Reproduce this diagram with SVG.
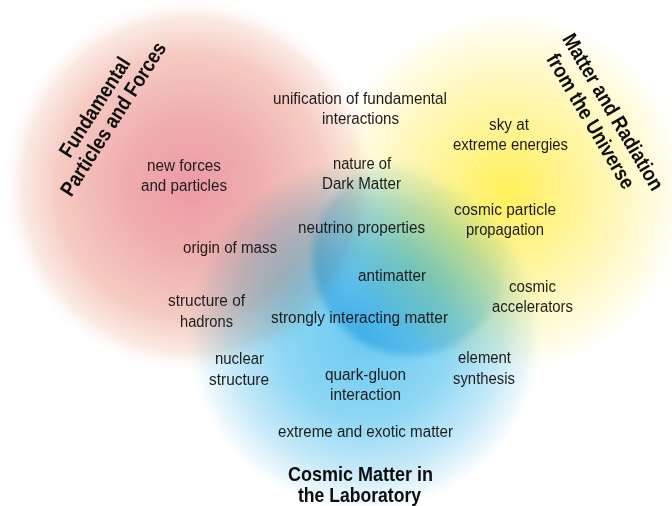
<svg xmlns="http://www.w3.org/2000/svg" width="672" height="506" viewBox="0 0 672 506">
<defs>
<radialGradient id="gRed" gradientUnits="userSpaceOnUse" cx="190" cy="185" r="190">
<stop offset="0" stop-color="#ec9aa6"/>
<stop offset="0.35" stop-color="#efaeae"/>
<stop offset="0.7" stop-color="#f5cbc2"/>
<stop offset="0.88" stop-color="#fae3dc" stop-opacity="0.8"/>
<stop offset="1" stop-color="#ffffff" stop-opacity="0"/>
</radialGradient>
<radialGradient id="gYel" gradientUnits="userSpaceOnUse" cx="508" cy="192" r="185">
<stop offset="0" stop-color="#fff05a"/>
<stop offset="0.3" stop-color="#fff38c"/>
<stop offset="0.65" stop-color="#fff8c4"/>
<stop offset="0.88" stop-color="#fffce6" stop-opacity="0.8"/>
<stop offset="1" stop-color="#ffffff" stop-opacity="0"/>
</radialGradient>
<radialGradient id="gBlue" gradientUnits="userSpaceOnUse" cx="365" cy="335" r="182">
<stop offset="0" stop-color="#6ccaf0"/>
<stop offset="0.45" stop-color="#8cd6f4"/>
<stop offset="0.75" stop-color="#c6e9f8"/>
<stop offset="0.9" stop-color="#e6f5fc" stop-opacity="0.8"/>
<stop offset="1" stop-color="#ffffff" stop-opacity="0"/>
</radialGradient>
<linearGradient id="gCore" gradientUnits="userSpaceOnUse" x1="480" y1="180" x2="340" y2="335">
<stop offset="0" stop-color="#ffffff" stop-opacity="0"/>
<stop offset="0.45" stop-color="#b4e4f7" stop-opacity="0.45"/>
<stop offset="1" stop-color="#6fd0f4" stop-opacity="0.8"/>
</linearGradient>
<filter id="soft" x="-20%" y="-20%" width="140%" height="140%"><feGaussianBlur stdDeviation="3.5"/></filter>
</defs>
<style>
.t{font-family:"Liberation Sans Narrow","Liberation Sans",Arial,sans-serif;font-size:16px;fill:#1c1c1c;text-anchor:middle}
.h{font-family:"Liberation Sans Narrow","Liberation Sans",Arial,sans-serif;font-weight:bold;font-size:21px;fill:#0d0d0d;text-anchor:middle}
.blob{mix-blend-mode:multiply}
</style>
<rect width="672" height="506" fill="#ffffff"/>
<g id="circles">
<circle id="red" class="blob" cx="190" cy="185" r="190" fill="url(#gRed)"/>
<circle id="yellow" class="blob" cx="508" cy="192" r="185" fill="url(#gYel)"/>
<circle id="blue" class="blob" cx="365" cy="335" r="182" fill="url(#gBlue)"/>
<circle id="blueCore" class="blob" cx="410" cy="258" r="97" fill="url(#gCore)" filter="url(#soft)"/>
</g>
<g id="titles">
<g id="title-fundamental" transform="translate(104,113) rotate(-57.5)">
<text class="h" x="0" y="-4" textLength="114" lengthAdjust="spacingAndGlyphs">Fundamental</text>
<text class="h" x="0" y="18" textLength="178" lengthAdjust="spacingAndGlyphs">Particles and Forces</text>
</g>
<g id="title-universe" transform="translate(601,117) rotate(59.5) scale(0.86,1)">
<text class="h" x="2" y="-6" textLength="207" lengthAdjust="spacingAndGlyphs">Matter and Radiation</text>
<text class="h" x="-2" y="18" textLength="178" lengthAdjust="spacingAndGlyphs">from the Universe</text>
</g>
<g id="title-lab">
<text class="h" x="360.5" y="481" textLength="145" lengthAdjust="spacingAndGlyphs">Cosmic Matter in</text>
<text class="h" x="359.5" y="502" textLength="123" lengthAdjust="spacingAndGlyphs">the Laboratory</text>
</g>
</g>
<g id="labels">
<g id="n-unification"><text class="t" x="360" y="104" textLength="174" lengthAdjust="spacingAndGlyphs">unification of fundamental</text><text class="t" x="360.5" y="124" textLength="77" lengthAdjust="spacingAndGlyphs">interactions</text></g>
<g id="n-sky"><text class="t" x="509" y="130" textLength="40" lengthAdjust="spacingAndGlyphs">sky at</text><text class="t" x="510.5" y="150" textLength="115" lengthAdjust="spacingAndGlyphs">extreme energies</text></g>
<g id="n-darkmatter"><text class="t" x="362" y="169" textLength="58" lengthAdjust="spacingAndGlyphs">nature of</text><text class="t" x="361.5" y="189" textLength="79" lengthAdjust="spacingAndGlyphs">Dark Matter</text></g>
<g id="n-newforces"><text class="t" x="184" y="171" textLength="74" lengthAdjust="spacingAndGlyphs">new forces</text><text class="t" x="184" y="191" textLength="86" lengthAdjust="spacingAndGlyphs">and particles</text></g>
<g id="n-propagation"><text class="t" x="505" y="215" textLength="102" lengthAdjust="spacingAndGlyphs">cosmic particle</text><text class="t" x="505" y="235" textLength="78" lengthAdjust="spacingAndGlyphs">propagation</text></g>
<g id="n-neutrino"><text class="t" x="361.5" y="233" textLength="127" lengthAdjust="spacingAndGlyphs">neutrino properties</text></g>
<g id="n-mass"><text class="t" x="230" y="253" textLength="94" lengthAdjust="spacingAndGlyphs">origin of mass</text></g>
<g id="n-antimatter"><text class="t" x="392" y="281" textLength="68" lengthAdjust="spacingAndGlyphs">antimatter</text></g>
<g id="n-accelerators"><text class="t" x="532.5" y="292" textLength="47" lengthAdjust="spacingAndGlyphs">cosmic</text><text class="t" x="532.5" y="312" textLength="81" lengthAdjust="spacingAndGlyphs">accelerators</text></g>
<g id="n-hadrons"><text class="t" x="206.5" y="306" textLength="77" lengthAdjust="spacingAndGlyphs">structure of</text><text class="t" x="206.5" y="327" textLength="53" lengthAdjust="spacingAndGlyphs">hadrons</text></g>
<g id="n-strongly"><text class="t" x="359.5" y="323" textLength="177" lengthAdjust="spacingAndGlyphs">strongly interacting matter</text></g>
<g id="n-nuclear"><text class="t" x="239.5" y="364" textLength="49" lengthAdjust="spacingAndGlyphs">nuclear</text><text class="t" x="239" y="385" textLength="60" lengthAdjust="spacingAndGlyphs">structure</text></g>
<g id="n-element"><text class="t" x="484.5" y="363" textLength="53" lengthAdjust="spacingAndGlyphs">element</text><text class="t" x="484" y="384" textLength="62" lengthAdjust="spacingAndGlyphs">synthesis</text></g>
<g id="n-quark"><text class="t" x="365.5" y="380" textLength="81" lengthAdjust="spacingAndGlyphs">quark-gluon</text><text class="t" x="365.5" y="400" textLength="71" lengthAdjust="spacingAndGlyphs">interaction</text></g>
<g id="n-exotic"><text class="t" x="365.5" y="437" textLength="175" lengthAdjust="spacingAndGlyphs">extreme and exotic matter</text></g>
</g>
<g id="connectors"/>
</svg>
